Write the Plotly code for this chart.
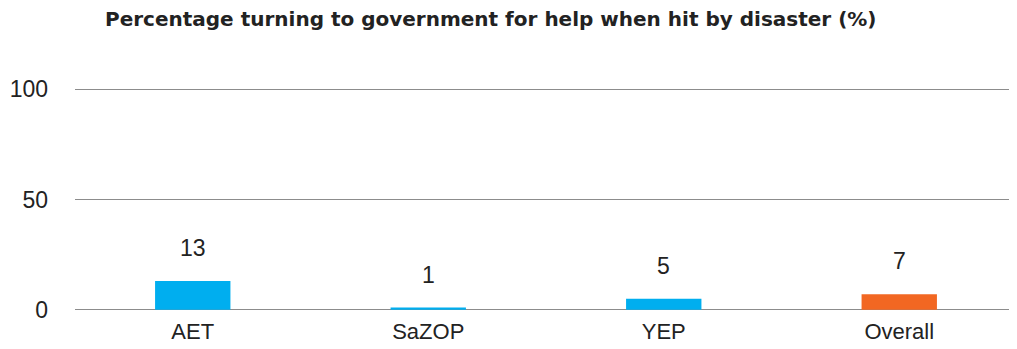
import plotly.graph_objects as go

categories = ["AET", "SaZOP", "YEP", "Overall"]
values = [13, 1, 5, 7]
bar_colors = ["#00AEEF", "#00AEEF", "#00AEEF", "#F26722"]
y_ticks = [0, 50, 100]
title_text = "Percentage turning to government for help when hit by disaster (%)"

FONT = "Liberation Sans, Arial, sans-serif"
TITLE_FONT = "DejaVu Sans, Liberation Sans, sans-serif"

fig = go.Figure()
fig.add_trace(go.Bar(
    x=categories, y=values, marker_color=bar_colors, width=0.32,
    marker_line_width=0, hoverinfo="skip",
))

for c, v in zip(categories, values):
    fig.add_annotation(x=c, y=v, text=str(v), showarrow=False,
                       yanchor="middle", yshift=33,
                       font=dict(family=FONT, size=23, color="#222222"))

# page has an 8px body margin; figure sized/offset to compensate
fig.update_layout(
    width=1009, height=341,
    margin=dict(l=67, r=0, t=79, b=37),
    plot_bgcolor="white", paper_bgcolor="white",
    showlegend=False,
    title=dict(text="<b>" + title_text + "</b>", xref="container", yref="container",
               x=97 / 1009, xanchor="left", y=1 - 4 / 341, yanchor="top",
               pad=dict(t=0, b=0, l=0, r=0),
               font=dict(family=TITLE_FONT, size=20, color="#222222")),
)
fig.update_yaxes(range=[-1, 101], tickvals=y_ticks, showgrid=True, gridcolor="#8c8c8c",
                 gridwidth=1, zeroline=False, showline=False, ticks="",
                 ticklabelstandoff=26,
                 tickfont=dict(family=FONT, size=23, color="#222222"))
fig.update_xaxes(showgrid=False, showline=False, ticks="", zeroline=False,
                 ticklabelstandoff=4,
                 tickfont=dict(family=FONT, size=22, color="#222222"))

fig.write_html("out.html")
